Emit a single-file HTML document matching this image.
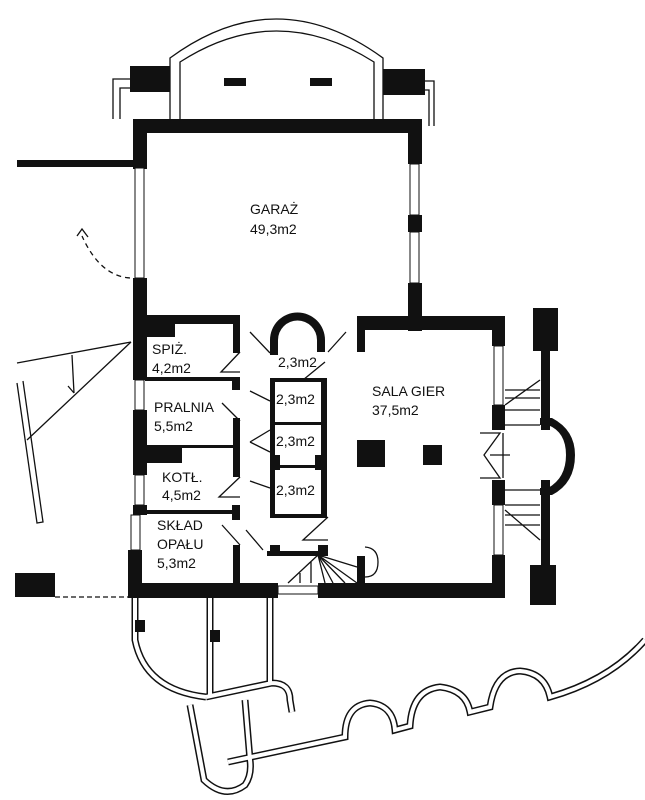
<!DOCTYPE html>
<html><head><meta charset="utf-8"><style>
html,body{margin:0;padding:0;background:#fff;width:645px;height:800px;overflow:hidden}
text{font-family:"Liberation Sans",sans-serif;font-size:14px;fill:#111}
</style></head><body>
<svg width="645" height="800" viewBox="0 0 645 800" xmlns="http://www.w3.org/2000/svg">
<g fill="none" stroke="#111" stroke-width="1.3">
<path d="M170,119 V58 Q276,-20 383,58 V119"/>
<path d="M180,119 V62 Q276,0 374,62 V119"/>
<path d="M113,119 V79 H130 M120,119 V88 H130"/>
<path d="M434,126 V81 H425 M429,126 V90 H425"/>
<path d="M131,342 L17,363 M131,342 L27,440 M72,355 L74,393 M68,386 L74,393"/>
<path d="M17,383 L37,523 L43,522 L23,381"/>
<path d="M130,278 Q100,276 82,236" stroke-dasharray="5,4"/>
<path d="M77,236 L82,229 L88,237"/>
<path d="M55,597 H128" stroke-dasharray="5,3"/>
<path d="M240,352 L221,372 H240 M240,421 L222,403 M240,477 L219,497 H240 M240,545 L222,525 M246,530 L263,550"/>
<path d="M270,353 L250,332 M270,401 L250,391 M270,452 L250,442 M270,488 L250,481 M270,430 L250,442"/>
<path d="M328,352 L346,332 M325,362 L303,380 H325 M328,517 L303,540 H328"/>
<path d="M365,547 Q378,548 378,562 Q378,577 365,577"/>
<path d="M288,583 L318,555 M300,583 V573 M311,583 V562 M318,555 L357,583 M318,555 L345,583 M318,555 L333,583 M318,555 L325,583 M318,555 L357,567"/>
<path d="M505,405 L540,380 M505,410 H540 M505,398 H540 M505,390 H540 M505,425 H540 M505,510 L540,540 M505,505 H540 M505,490 H540 M505,515 H540 M505,525 H540"/>
<path d="M480,433 H500 L484,455 L500,478 H480 M490,455 H510 M503,433 V478"/>
</g>
<g fill="none" stroke="#111" stroke-width="7">
<path id="gw" d="M135,598 V640 Q145,690 206,697 M210,598 V695 M270,598 V682 M206,697 L272,683 Q290,683 290,700 L292,712 M190,705 L204,780 Q225,800 245,785 Q252,775 250,760 L245,700 M228,762 L345,737 Q345,705 370,703 Q393,705 395,730 L410,726 Q412,690 440,687 Q466,690 470,712 L490,707 Q495,672 520,671 Q545,673 550,697 Q610,680 645,640"/>
</g>
<g fill="none" stroke="#fff" stroke-width="4"><use href="#gw"/></g>
<g fill="#111">
<rect x="130" y="66" width="40" height="26"/><rect x="383" y="69" width="42" height="26"/>
<rect x="224" y="78" width="22" height="8"/><rect x="310" y="78" width="22" height="8"/>
<rect x="134" y="119" width="288" height="14"/>
<rect x="133" y="119" width="14" height="50"/>
<rect x="17" y="160" width="117" height="7"/>
<rect x="408" y="119" width="14" height="45"/><rect x="408" y="215" width="14" height="17"/><rect x="408" y="283" width="14" height="48"/>
<rect x="133" y="278" width="14" height="102"/>
<rect x="133" y="410" width="14" height="65"/>
<rect x="133" y="505" width="14" height="10"/>
<rect x="128" y="550" width="14" height="48"/>
<rect x="128" y="583" width="150" height="15"/><rect x="318" y="583" width="187" height="15"/>
<rect x="15" y="573" width="40" height="24"/><rect x="530" y="565" width="26" height="40"/>
<rect x="135" y="620" width="10" height="12"/><rect x="210" y="630" width="10" height="12"/>
<rect x="134" y="315" width="106" height="9"/><rect x="145" y="315" width="30" height="22"/>
<rect x="233" y="315" width="7" height="38"/>
<rect x="145" y="377" width="95" height="4"/><rect x="232" y="378" width="8" height="12"/>
<rect x="140" y="445" width="42" height="18"/><rect x="140" y="445" width="100" height="3"/>
<rect x="233" y="418" width="7" height="59"/>
<rect x="140" y="510" width="100" height="4"/><rect x="232" y="505" width="8" height="15"/>
<rect x="233" y="545" width="7" height="38"/>
<path d="M270,355 V340 A27,27 0 0 1 325,340 V352 H317 V340 A19,19 0 0 0 278,340 V355 Z"/>
<rect x="270" y="378" width="5" height="140"/><rect x="321" y="378" width="6" height="140"/>
<rect x="270" y="378" width="57" height="4"/><rect x="275" y="422" width="52" height="3"/>
<rect x="275" y="465" width="52" height="3"/><rect x="270" y="514" width="57" height="4"/>
<rect x="270" y="455" width="10" height="15"/><rect x="315" y="455" width="12" height="15"/>
<rect x="267" y="551" width="60" height="5"/><rect x="270" y="545" width="10" height="10"/><rect x="318" y="545" width="10" height="11"/>
<rect x="357" y="556" width="8" height="27"/>
<rect x="357" y="316" width="148" height="14"/><rect x="357" y="316" width="8" height="36"/>
<rect x="492" y="316" width="13" height="30"/><rect x="492" y="405" width="13" height="25"/>
<rect x="492" y="480" width="13" height="25"/><rect x="492" y="555" width="13" height="43"/>
<rect x="357" y="440" width="28" height="27"/><rect x="423" y="445" width="19" height="20"/>
<rect x="533" y="308" width="25" height="43"/><rect x="541" y="350" width="9" height="80"/>
<rect x="541" y="480" width="9" height="85"/>
<path d="M540,418 H552 Q575,430 575,455 Q575,483 552,495 H540 V488 H548 Q566,478 566,455 Q566,432 548,425 H540 Z"/>
</g>
<g fill="#fff" stroke="#111" stroke-width="1">
<rect x="135" y="168" width="9" height="110"/><rect x="410" y="164" width="9" height="51"/><rect x="410" y="232" width="9" height="51"/>
<rect x="135" y="380" width="9" height="30"/><rect x="135" y="475" width="9" height="30"/><rect x="131" y="515" width="9" height="35"/>
<rect x="494" y="346" width="9" height="59"/><rect x="494" y="505" width="9" height="50"/>
<rect x="278" y="586" width="40" height="8"/>
</g>
<text x="250" y="214">GARAŻ</text><text x="250" y="234">49,3m2</text>
<text x="152" y="354">SPIŻ.</text><text x="152" y="373">4,2m2</text>
<text x="154" y="412">PRALNIA</text><text x="154" y="431">5,5m2</text>
<text x="162" y="482">KOTŁ.</text><text x="162" y="500">4,5m2</text>
<text x="157" y="530">SKŁAD</text><text x="157" y="549">OPAŁU</text><text x="157" y="568">5,3m2</text>
<text x="278" y="367">2,3m2</text><text x="276" y="404">2,3m2</text><text x="276" y="446">2,3m2</text><text x="276" y="495">2,3m2</text>
<text x="372" y="396">SALA GIER</text><text x="372" y="415">37,5m2</text>
</svg>
</body></html>
